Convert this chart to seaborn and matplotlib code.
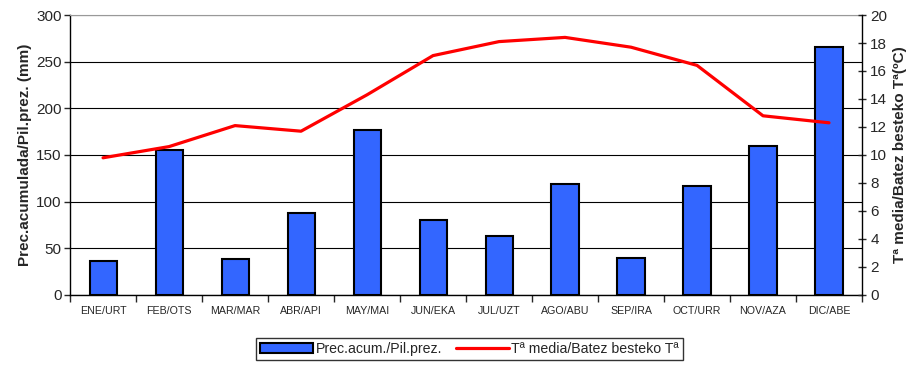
import numpy as np
import matplotlib
matplotlib.use("Agg")
import matplotlib.pyplot as plt
import seaborn as sns
from matplotlib.patches import Patch
from matplotlib.lines import Line2D

# Data
months = ["ENE/URT", "FEB/OTS", "MAR/MAR", "ABR/API", "MAY/MAI", "JUN/EKA",
          "JUL/UZT", "AGO/ABU", "SEP/IRA", "OCT/URR", "NOV/AZA", "DIC/ABE"]
prec = [36, 155, 39, 88, 177, 80, 63, 119, 40, 117, 160, 266]
temp = [9.8, 10.6, 12.1, 11.7, 14.3, 17.1, 18.1, 18.4, 17.7, 16.4, 12.8, 12.3]

sns.set_style("white")
plt.rcParams["font.family"] = ["Liberation Sans", "DejaVu Sans"]

fig = plt.figure(figsize=(9.12, 3.65), dpi=100)
ax = fig.add_axes([0.0768, 0.1918, 0.8684, 0.7671])

sns.barplot(x=months, y=prec, color="#3366FF", saturation=1, width=0.41,
            edgecolor="black", linewidth=1.5, ax=ax, zorder=3)
ax.set_xlim(-0.5, 11.5)
ax.set_ylim(0, 300)
ax.set_yticks(range(0, 301, 50))
ax.yaxis.grid(True, color="black", linewidth=0.8)
ax.set_axisbelow(True)
ax.set_ylabel("Prec.acumulada/Pil.prez. (mm)", fontsize=11, fontweight="bold", labelpad=3)
ax.set_xlabel("")
ax.tick_params(axis="y", labelsize=11, length=4, width=1, direction="out", left=True, pad=2)
ax.tick_params(axis="x", which="major", labelsize=7.7, length=0, pad=8)
ax.set_xticks(np.arange(-0.5, 12, 1), minor=True)
ax.tick_params(axis="x", which="minor", length=5, width=1, direction="out", bottom=True)
for s in ["left", "bottom"]:
    ax.spines[s].set_color("black")
    ax.spines[s].set_linewidth(1)
ax.spines["top"].set_color("#999999")
ax.spines["right"].set_visible(False)

ax2 = ax.twinx()
sns.lineplot(x=np.arange(len(temp)), y=temp, color="#FF0000", linewidth=2.3, ax=ax2, zorder=4)
ax2.set_ylim(0, 20)
ax2.set_yticks(range(0, 21, 2))
ax2.set_ylabel("Tª media/Batez besteko Tª(ºC)", fontsize=11, fontweight="bold", labelpad=4)
ax2.tick_params(axis="y", labelsize=11, length=6, width=1, direction="inout", right=True, pad=3)
for s in ["left", "top", "bottom"]:
    ax2.spines[s].set_visible(False)
ax2.spines["right"].set_color("black")
ax2.spines["right"].set_linewidth(1)

handles = [Patch(facecolor="#3366FF", edgecolor="black", linewidth=1.5),
           Line2D([], [], color="#FF0000", linewidth=2.3)]
leg = fig.legend(handles, ["Prec.acum./Pil.prez.", "Tª media/Batez besteko Tª"],
                 loc="center", bbox_to_anchor=(0.515, 0.044), ncol=2, fontsize=10.2,
                 frameon=True, fancybox=False, edgecolor="black", handlelength=3.7,
                 handleheight=0.7, columnspacing=1.0, borderpad=0.3, handletextpad=0.2)
leg.get_frame().set_linewidth(1)

fig.savefig("out.png", dpi=100)
